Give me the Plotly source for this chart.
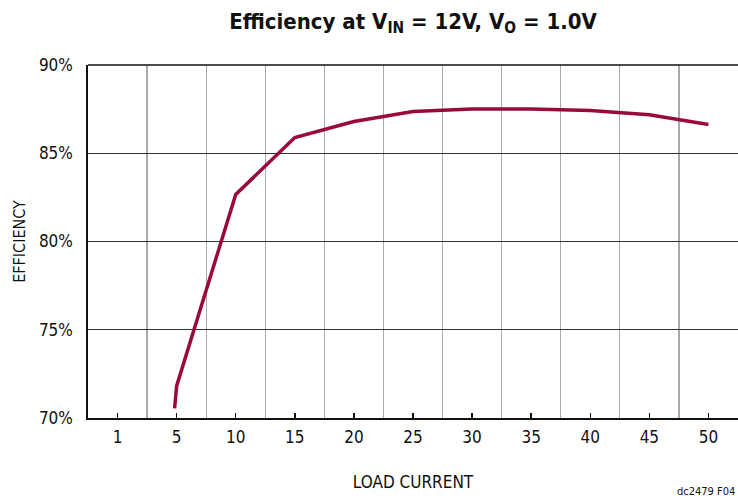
import plotly.graph_objects as go

# Category axis labels (load current, A)
categories = ["1", "5", "10", "15", "20", "25", "30", "35", "40", "45", "50"]
cat_values = [1, 5, 10, 15, 20, 25, 30, 35, 40, 45, 50]

# Efficiency curve
load_current = [4.86, 5, 10, 15, 20, 25, 30, 35, 40, 45, 50]
efficiency = [70.55, 71.82, 82.66, 85.89, 86.8, 87.36, 87.51, 87.51, 87.42, 87.18, 86.63]

y_ticks = [70, 75, 80, 85, 90]
y_labels = ["70%", "75%", "80%", "85%", "90%"]


def cat_pos(v):
    # position on the evenly spaced category axis
    for i in range(len(cat_values) - 1):
        a, b = cat_values[i], cat_values[i + 1]
        if v <= b or i == len(cat_values) - 2:
            return i + (v - a) / (b - a)
    return len(cat_values) - 1


xpos = [cat_pos(v) for v in load_current]
cat_idx = list(range(len(categories)))
boundaries = [i + 0.5 for i in range(len(categories) - 1)]

FONT = "DejaVu Sans Condensed, Liberation Sans Narrow, Arial Narrow, sans-serif"

fig = go.Figure()
fig.add_trace(go.Scatter(
    x=xpos, y=efficiency, mode="lines",
    line=dict(color="#990a38", width=3.5),
    hoverinfo="skip", showlegend=False,
))

fig.update_layout(
    width=738, height=500,
    margin=dict(l=88, r=0, t=65, b=82, autoexpand=False),
    paper_bgcolor="white", plot_bgcolor="white",
    font=dict(family=FONT, color="#111", size=16),
    title=dict(
        text="<b>Efficiency at V<sub>IN</sub> = 12V, V<sub>O</sub> = 1.0V</b>",
        x=0.5, xref="paper", xanchor="center",
        y=0.958, yref="container", yanchor="middle",
        font=dict(family=FONT, size=22, color="#111"),
    ),
    xaxis=dict(
        range=[-0.5, len(categories) - 0.5],
        tickmode="array", tickvals=cat_idx, ticktext=categories,
        showgrid=False, zeroline=False, automargin=False,
        showline=True, linecolor="#111", linewidth=1.7,
        ticks="inside", ticklen=5, tickcolor="#111", tickwidth=1.5,
        tickfont=dict(size=17),
        ticklabelstandoff=3,
        minor=dict(tickmode="array", tickvals=boundaries, showgrid=True,
                   gridcolor="#aaaaaa", gridwidth=1.3, ticks=""),
        title=dict(text="LOAD CURRENT", font=dict(size=17), standoff=30),
    ),
    yaxis=dict(
        range=[70, 90], automargin=False,
        tickmode="array", tickvals=y_ticks, ticktext=y_labels,
        showgrid=True, gridcolor="#333", gridwidth=1.2,
        zeroline=False, showline=True, linecolor="#111", linewidth=1.7,
        ticks="", ticklabelstandoff=10,
        tickfont=dict(size=17),
        title=dict(text="EFFICIENCY", font=dict(size=16), standoff=9),
    ),
)

fig.add_shape(type="line", xref="paper", yref="paper", x0=0, x1=1, y0=1, y1=1,
              line=dict(color="#111", width=1.7))

fig.add_annotation(text="dc2479 F04", xref="paper", yref="paper",
                   x=0.998, y=-0.207, xanchor="right", yanchor="middle",
                   showarrow=False, font=dict(size=11, color="#111"))

fig.write_html("out.html",
               config={"displayModeBar": False, "staticPlot": True},
               post_script="document.body.style.margin='0';document.body.style.padding='0';")
